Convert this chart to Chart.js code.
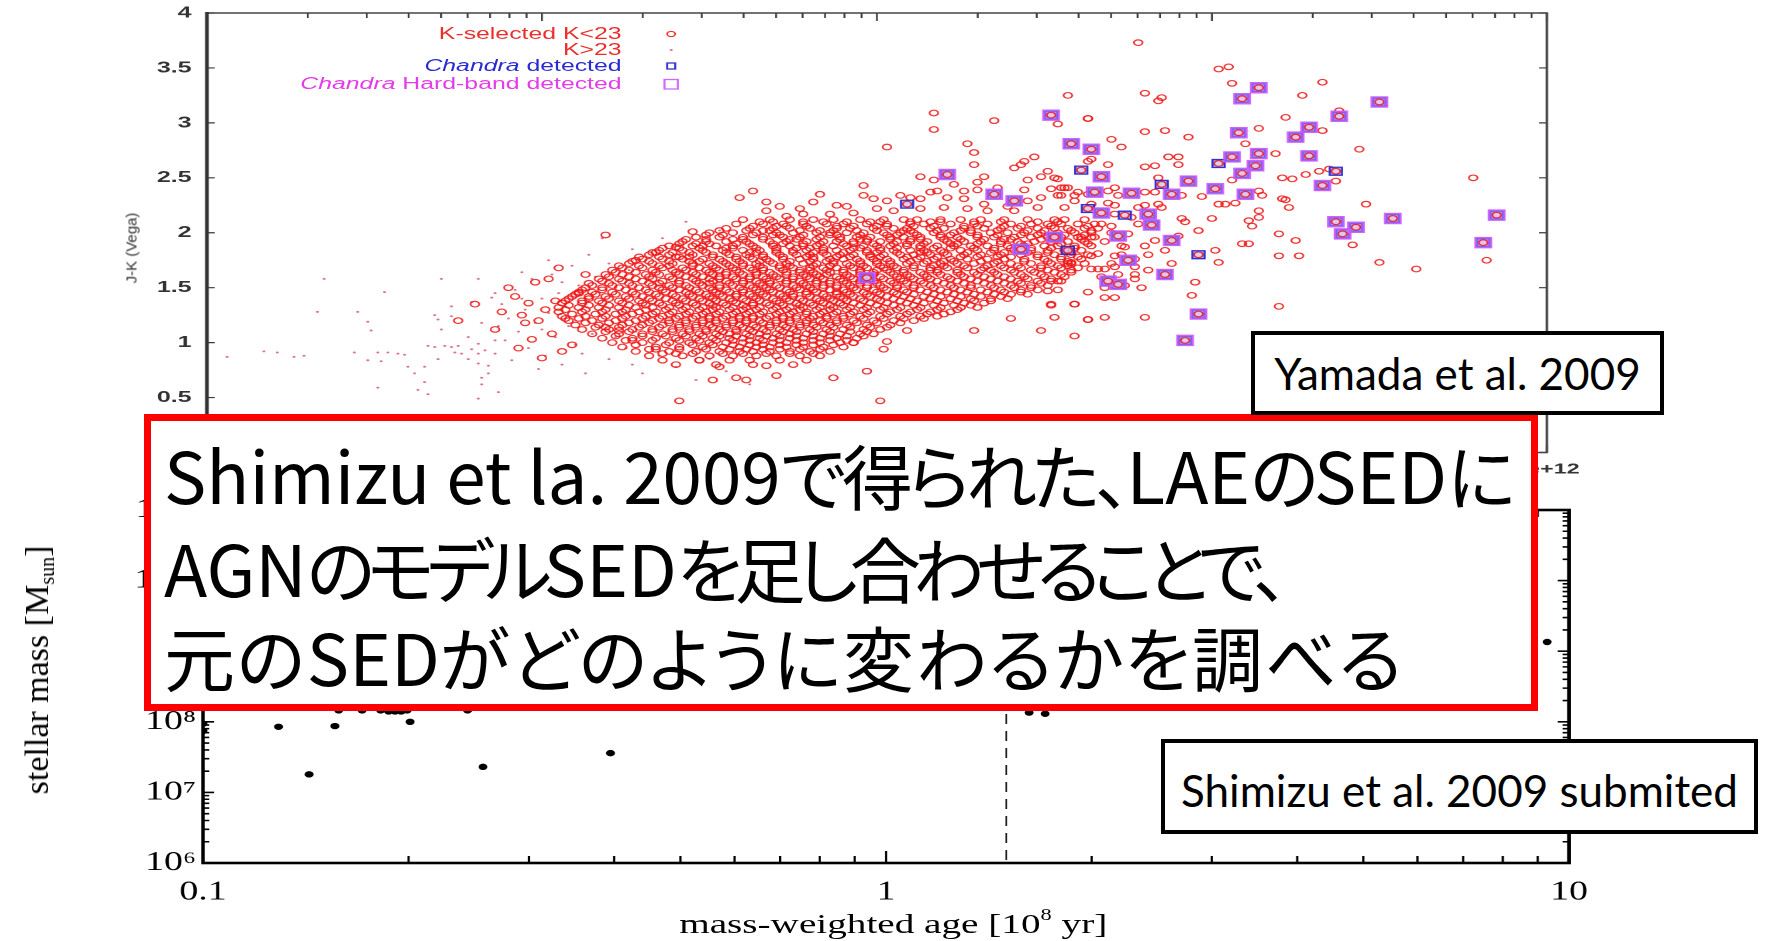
<!DOCTYPE html>
<html>
<head>
<meta charset="utf-8">
<script src="https://cdn.jsdelivr.net/npm/chart.js@4.4.1/dist/chart.umd.min.js"></script>
<style>
  html, body { margin: 0; padding: 0; background: #fff; }
  body { width: 1767px; height: 941px; position: relative; overflow: hidden; }
  .stretch { position: absolute; left: 0; transform-origin: 0 0; }
  #topWrap { top: 0; width: 1040px; height: 490px; transform: scaleX(1.55); }
  #botWrap { top: 430px; width: 1262px; height: 511px; transform: scaleX(1.4); }
  canvas { position: absolute; left: 0; top: 0; }
  .lg { position: absolute; left: 0; width: 401px; text-align: right; white-space: nowrap;
        font: 16px "Liberation Sans", Arial, sans-serif; line-height: 16px; }
  #jkTitle { position: absolute; left: 131px; top: 248px; transform: translate(-50%, -50%) rotate(-90deg);
             font: 15px "Liberation Sans", Arial, sans-serif; color: #333; white-space: nowrap; }
  #xTitle { position: absolute; left: 638px; top: 494px; transform: translate(-50%, -50%);
            font: 28px "Liberation Serif", "Times New Roman", serif; white-space: nowrap; color: #000; }
  #xTitle sup { font-size: 16px; vertical-align: 0; position: relative; top: -13px; }
  #yTitle { position: absolute; left: 37px; top: 670px; transform: translate(-50%, -50%) rotate(-90deg);
            font: 34px "Liberation Serif", "Times New Roman", serif; white-space: nowrap; color: #000; }
  #yTitle sub { font-size: 20px; vertical-align: 0; position: relative; top: 6px; }
  #note { position: absolute; left: 144px; top: 414px; width: 1394px; height: 297px; box-sizing: border-box;
          border: 7px solid #ff0000; background: #fff; }
  #note .ln { position: absolute; left: 13px; white-space: nowrap; color: #000;
              font-family: "Noto Sans CJK JP", "Noto Sans CJK SC", sans-serif; font-size: 71px; line-height: 71px;
              font-feature-settings: "palt"; }
  #note .lat { letter-spacing: 0; }
  .cite { position: absolute; box-sizing: border-box; border: 4px solid #000; background: #fff; }
  .cite span { position: absolute; left: 0; right: 0; text-align: center; white-space: nowrap;
               font: 44px Lato, "Open Sans", sans-serif; line-height: 44px; color: #000; }
</style>
</head>
<body>

<div id="topWrap" class="stretch">
  <canvas id="topChart" width="1040" height="490"></canvas>
  <div class="lg" style="top:26px;color:#e8302c;">K-selected K&lt;23</div>
  <div class="lg" style="top:42px;color:#e8302c;">K&gt;23</div>
  <div class="lg" style="top:58px;color:#2a2ad2;"><i>Chandra</i> detected</div>
  <div class="lg" style="top:76px;color:#e33ce8;"><i>Chandra</i> Hard-band detected</div>
</div>

<div id="botWrap" class="stretch">
  <canvas id="botChart" width="1262" height="511"></canvas>
  <div id="xTitle">mass-weighted age [10<sup>8</sup> yr]</div>
</div>

<div id="jkTitle">J-K (Vega)</div>
<div id="yTitle">stellar mass [M<sub>sun</sub>]</div>

<div id="note">
  <div class="ln" data-w="1347" style="top:17px;"><span class="lat">Shimizu et la. 2009</span>で得られた、<span class="lat">LAE</span>の<span class="lat">SED</span>に</div>
  <div class="ln" data-w="1117" style="top:110px;"><span class="lat">AGN</span>のモデル<span class="lat">SED</span>を足し合わせることで、</div>
  <div class="ln" data-w="1240" style="top:199px;">元の<span class="lat">SED</span>がどのように変わるかを調べる</div>
</div>

<div class="cite" style="left:1251px;top:331px;width:413px;height:84px;"><span style="top:16px;">Yamada et al. 2009</span></div>
<div class="cite" style="left:1161px;top:739px;width:597px;height:95px;"><span style="top:25px;">Shimizu et al. 2009 submited</span></div>

<script>
// ---------- J-K colour vs stellar mass (log10 M, J-K) ----------
// K-selected, K<23: rows of constant J-K with the log-mass of each object
const kBrightRows = [
  [2.12, [9.60, 9.68, 9.74, 9.81, 9.87, 9.95, 10.02, 10.08, 10.12, 10.19, 10.25, 10.31, 10.38, 10.45, 10.53, 10.56, 10.62]],
  [2.10, [9.65, 9.69, 9.78, 9.84, 9.91, 9.98, 10.01, 10.10, 10.16, 10.19, 10.29, 10.37, 10.48, 10.54]],
  [2.08, [9.58, 9.66, 9.72, 9.78, 9.85, 9.90, 9.97, 10.03, 10.10, 10.14, 10.22, 10.29, 10.33, 10.40, 10.46, 10.51, 10.55, 10.60, 10.65]],
  [2.06, [9.63, 9.70, 9.73, 9.79, 9.88, 9.93, 10.00, 10.03, 10.11, 10.17, 10.26, 10.30, 10.38, 10.43, 10.52, 10.63]],
  [2.04, [9.55, 9.62, 9.69, 9.74, 9.80, 9.88, 9.92, 9.99, 10.05, 10.09, 10.16, 10.20, 10.26, 10.32, 10.37, 10.42, 10.48, 10.53, 10.57, 10.62, 10.66]],
  [2.02, [9.53, 9.61, 9.66, 9.68, 9.77, 9.83, 9.87, 9.94, 10.00, 10.08, 10.10, 10.18, 10.25, 10.28, 10.36, 10.45, 10.50, 10.58, 10.64]],
  [2.00, [9.50, 9.57, 9.64, 9.70, 9.75, 9.82, 9.86, 9.91, 9.96, 10.02, 10.07, 10.11, 10.17, 10.23, 10.28, 10.34, 10.39, 10.44, 10.49, 10.54, 10.59, 10.64]],
  [1.98, [9.49, 9.54, 9.63, 9.69, 9.71, 9.78, 9.86, 9.88, 9.95, 10.03, 10.06, 10.12, 10.19, 10.22, 10.30, 10.36, 10.43, 10.48, 10.56, 10.62]],
  [1.96, [9.46, 9.53, 9.60, 9.66, 9.72, 9.77, 9.83, 9.89, 9.94, 9.98, 10.04, 10.08, 10.13, 10.19, 10.24, 10.30, 10.35, 10.41, 10.46, 10.51, 10.55, 10.60, 10.65]],
  [1.94, [9.43, 9.49, 9.57, 9.60, 9.66, 9.74, 9.76, 9.82, 9.89, 9.95, 9.97, 10.04, 10.10, 10.13, 10.20, 10.25, 10.32, 10.38, 10.40, 10.49, 10.53, 10.61]],
  [1.92, [9.42, 9.49, 9.55, 9.61, 9.68, 9.73, 9.79, 9.84, 9.88, 9.93, 9.97, 10.01, 10.06, 10.10, 10.15, 10.21, 10.26, 10.31, 10.37, 10.42, 10.47, 10.52, 10.57, 10.62]],
  [1.90, [9.41, 9.46, 9.50, 9.58, 9.62, 9.69, 9.72, 9.78, 9.83, 9.90, 9.93, 9.99, 10.05, 10.09, 10.14, 10.22, 10.24, 10.30, 10.37, 10.43, 10.45, 10.55, 10.63]],
  [1.88, [9.38, 9.45, 9.52, 9.57, 9.63, 9.69, 9.74, 9.78, 9.82, 9.87, 9.91, 9.96, 10.00, 10.04, 10.09, 10.13, 10.18, 10.23, 10.28, 10.33, 10.39, 10.44, 10.50, 10.54, 10.59, 10.64]],
  [1.86, [9.36, 9.41, 9.47, 9.55, 9.57, 9.64, 9.70, 9.76, 9.80, 9.84, 9.93, 9.95, 10.01, 10.06, 10.13, 10.17, 10.22, 10.29, 10.35, 10.40, 10.46, 10.52, 10.59]],
  [1.84, [9.35, 9.42, 9.48, 9.54, 9.60, 9.65, 9.70, 9.75, 9.79, 9.84, 9.88, 9.92, 9.97, 10.01, 10.05, 10.10, 10.14, 10.19, 10.25, 10.30, 10.35, 10.41, 10.46, 10.51, 10.56, 10.61]],
  [1.82, [9.33, 9.39, 9.44, 9.49, 9.55, 9.62, 9.64, 9.70, 9.75, 9.81, 9.84, 9.90, 9.97, 10.00, 10.06, 10.13, 10.15, 10.20, 10.27, 10.34, 10.38, 10.45, 10.51, 10.58]],
  [1.80, [9.32, 9.38, 9.45, 9.51, 9.56, 9.61, 9.66, 9.71, 9.76, 9.80, 9.85, 9.89, 9.93, 9.98, 10.02, 10.07, 10.11, 10.16, 10.21, 10.26, 10.31, 10.37, 10.43, 10.48, 10.53, 10.58, 10.63]],
  [1.78, [9.29, 9.35, 9.41, 9.44, 9.51, 9.58, 9.62, 9.66, 9.72, 9.79, 9.81, 9.88, 9.92, 9.98, 10.01, 10.09, 10.13, 10.18, 10.25, 10.30, 10.36, 10.40, 10.48, 10.55, 10.60]],
  [1.76, [9.30, 9.36, 9.42, 9.48, 9.53, 9.58, 9.63, 9.67, 9.72, 9.77, 9.81, 9.86, 9.90, 9.94, 9.99, 10.03, 10.08, 10.12, 10.17, 10.22, 10.27, 10.33, 10.38, 10.44, 10.50, 10.55, 10.61]],
  [1.74, [9.27, 9.32, 9.38, 9.44, 9.47, 9.54, 9.59, 9.65, 9.68, 9.74, 9.80, 9.85, 9.87, 9.95, 10.00, 10.04, 10.10, 10.15, 10.20, 10.23, 10.31, 10.36, 10.44, 10.51, 10.57]],
  [1.72, [9.26, 9.33, 9.39, 9.45, 9.50, 9.55, 9.60, 9.64, 9.69, 9.73, 9.78, 9.82, 9.87, 9.91, 9.95, 10.00, 10.04, 10.09, 10.14, 10.19, 10.24, 10.29, 10.35, 10.40, 10.46, 10.52, 10.58, 10.62]],
  [1.70, [9.23, 9.29, 9.35, 9.38, 9.45, 9.51, 9.56, 9.60, 9.65, 9.71, 9.74, 9.81, 9.86, 9.92, 9.96, 10.01, 10.05, 10.11, 10.17, 10.20, 10.26, 10.33, 10.37, 10.42, 10.49, 10.57]],
  [1.68, [9.24, 9.30, 9.36, 9.42, 9.47, 9.52, 9.57, 9.62, 9.66, 9.71, 9.75, 9.80, 9.84, 9.88, 9.93, 9.97, 10.02, 10.06, 10.11, 10.16, 10.21, 10.27, 10.32, 10.38, 10.43, 10.49, 10.55, 10.60]],
  [1.66, [9.21, 9.26, 9.33, 9.39, 9.43, 9.49, 9.53, 9.58, 9.63, 9.66, 9.72, 9.77, 9.80, 9.85, 9.90, 9.95, 10.00, 10.03, 10.08, 10.16, 10.18, 10.24, 10.31, 10.34, 10.40, 10.46, 10.51, 10.58]],
  [1.64, [9.22, 9.28, 9.34, 9.40, 9.45, 9.50, 9.55, 9.59, 9.64, 9.68, 9.73, 9.77, 9.81, 9.86, 9.90, 9.95, 9.99, 10.04, 10.08, 10.13, 10.18, 10.24, 10.29, 10.35, 10.41, 10.47, 10.53, 10.58]],
  [1.62, [9.19, 9.24, 9.31, 9.35, 9.41, 9.46, 9.51, 9.55, 9.60, 9.64, 9.69, 9.73, 9.78, 9.82, 9.85, 9.91, 9.95, 9.99, 10.05, 10.09, 10.14, 10.19, 10.25, 10.30, 10.36, 10.43, 10.49, 10.55]],
  [1.60, [9.20, 9.26, 9.32, 9.38, 9.43, 9.48, 9.53, 9.57, 9.62, 9.66, 9.70, 9.75, 9.79, 9.83, 9.88, 9.92, 9.97, 10.01, 10.06, 10.10, 10.15, 10.21, 10.26, 10.32, 10.38, 10.44, 10.50, 10.56]],
  [1.58, [9.17, 9.23, 9.28, 9.33, 9.39, 9.45, 9.50, 9.53, 9.58, 9.62, 9.67, 9.71, 9.75, 9.80, 9.84, 9.89, 9.93, 9.98, 10.02, 10.07, 10.11, 10.16, 10.22, 10.28, 10.34, 10.40, 10.45, 10.52]],
  [1.56, [9.18, 9.24, 9.30, 9.36, 9.41, 9.46, 9.51, 9.55, 9.60, 9.64, 9.68, 9.73, 9.77, 9.82, 9.86, 9.90, 9.95, 9.99, 10.04, 10.08, 10.13, 10.18, 10.24, 10.30, 10.36, 10.42, 10.48, 10.54]],
  [1.54, [9.14, 9.20, 9.26, 9.32, 9.35, 9.41, 9.47, 9.50, 9.56, 9.60, 9.65, 9.68, 9.73, 9.78, 9.82, 9.86, 9.91, 9.95, 10.00, 10.05, 10.09, 10.14, 10.20, 10.26, 10.32, 10.38, 10.43, 10.49]],
  [1.52, [9.15, 9.21, 9.27, 9.33, 9.38, 9.43, 9.48, 9.53, 9.57, 9.62, 9.66, 9.70, 9.75, 9.79, 9.84, 9.88, 9.92, 9.97, 10.01, 10.06, 10.11, 10.16, 10.22, 10.28, 10.34, 10.40, 10.46, 10.51]],
  [1.50, [9.13, 9.18, 9.23, 9.29, 9.35, 9.39, 9.44, 9.50, 9.53, 9.59, 9.63, 9.67, 9.71, 9.76, 9.80, 9.84, 9.88, 9.93, 9.97, 10.02, 10.06, 10.11, 10.17, 10.23, 10.28, 10.35, 10.41, 10.46]],
  [1.48, [9.12, 9.18, 9.25, 9.31, 9.36, 9.41, 9.46, 9.51, 9.55, 9.60, 9.64, 9.68, 9.73, 9.77, 9.81, 9.86, 9.90, 9.94, 9.99, 10.03, 10.08, 10.13, 10.19, 10.25, 10.31, 10.37, 10.43, 10.48]],
  [1.46, [9.11, 9.15, 9.21, 9.27, 9.32, 9.37, 9.43, 9.47, 9.52, 9.56, 9.60, 9.65, 9.69, 9.74, 9.79, 9.82, 9.88, 9.91, 9.96, 10.00, 10.05, 10.09, 10.15, 10.21, 10.27, 10.33, 10.38, 10.43]],
  [1.44, [9.10, 9.16, 9.22, 9.28, 9.34, 9.39, 9.44, 9.49, 9.53, 9.58, 9.62, 9.66, 9.71, 9.75, 9.79, 9.84, 9.88, 9.92, 9.97, 10.01, 10.06, 10.11, 10.17, 10.23, 10.29, 10.35, 10.40, 10.45]],
  [1.42, [9.09, 9.14, 9.19, 9.25, 9.30, 9.35, 9.40, 9.45, 9.50, 9.54, 9.58, 9.63, 9.67, 9.72, 9.75, 9.80, 9.85, 9.89, 9.93, 9.98, 10.03, 10.08, 10.14, 10.19, 10.25, 10.31, 10.37]],
  [1.40, [9.08, 9.14, 9.20, 9.26, 9.32, 9.37, 9.42, 9.47, 9.51, 9.56, 9.60, 9.64, 9.69, 9.73, 9.77, 9.82, 9.86, 9.90, 9.95, 10.00, 10.05, 10.10, 10.16, 10.22, 10.28, 10.34, 10.39]],
  [1.38, [9.07, 9.12, 9.17, 9.23, 9.29, 9.33, 9.39, 9.43, 9.48, 9.52, 9.57, 9.61, 9.65, 9.70, 9.74, 9.78, 9.83, 9.87, 9.91, 9.96, 10.01, 10.07, 10.12, 10.18, 10.24, 10.29, 10.34]],
  [1.36, [9.06, 9.12, 9.18, 9.24, 9.30, 9.35, 9.40, 9.45, 9.50, 9.54, 9.58, 9.63, 9.67, 9.71, 9.76, 9.80, 9.84, 9.89, 9.93, 9.98, 10.03, 10.09, 10.14, 10.20, 10.26, 10.32]],
  [1.34, [9.08, 9.14, 9.20, 9.26, 9.31, 9.36, 9.41, 9.46, 9.51, 9.55, 9.60, 9.63, 9.68, 9.72, 9.77, 9.81, 9.86, 9.90, 9.95, 10.00, 10.05, 10.11, 10.17, 10.23, 10.28]],
  [1.32, [9.05, 9.11, 9.17, 9.23, 9.28, 9.33, 9.38, 9.43, 9.48, 9.52, 9.57, 9.61, 9.65, 9.70, 9.74, 9.78, 9.83, 9.87, 9.92, 9.97, 10.02, 10.07, 10.13, 10.19, 10.25, 10.30]],
  [1.30, [9.07, 9.13, 9.19, 9.25, 9.31, 9.37, 9.42, 9.47, 9.51, 9.56, 9.60, 9.64, 9.69, 9.73, 9.77, 9.82, 9.86, 9.91, 9.96, 10.01, 10.06, 10.12, 10.18, 10.24]],
  [1.28, [9.05, 9.12, 9.18, 9.24, 9.29, 9.34, 9.39, 9.44, 9.49, 9.53, 9.58, 9.62, 9.66, 9.71, 9.75, 9.79, 9.84, 9.88, 9.93, 9.98, 10.04, 10.10, 10.16, 10.22]],
  [1.26, [9.09, 9.16, 9.22, 9.27, 9.33, 9.38, 9.43, 9.48, 9.52, 9.57, 9.61, 9.65, 9.70, 9.74, 9.79, 9.83, 9.87, 9.92, 9.97, 10.03, 10.09, 10.15, 10.20]],
  [1.24, [9.06, 9.13, 9.19, 9.25, 9.31, 9.36, 9.41, 9.46, 9.50, 9.55, 9.59, 9.63, 9.68, 9.72, 9.76, 9.81, 9.85, 9.90, 9.95, 10.01, 10.07, 10.13, 10.18]],
  [1.22, [9.11, 9.18, 9.24, 9.30, 9.35, 9.40, 9.45, 9.50, 9.54, 9.59, 9.63, 9.67, 9.72, 9.76, 9.80, 9.85, 9.90, 9.96, 10.02, 10.08, 10.14]],
  [1.20, [9.08, 9.15, 9.22, 9.28, 9.33, 9.38, 9.43, 9.48, 9.52, 9.57, 9.61, 9.65, 9.70, 9.74, 9.79, 9.83, 9.88, 9.93, 9.99, 10.05, 10.11]],
  [1.18, [9.13, 9.20, 9.26, 9.32, 9.38, 9.43, 9.48, 9.52, 9.57, 9.61, 9.66, 9.70, 9.74, 9.79, 9.84, 9.88, 9.94, 10.00, 10.07]],
  [1.16, [9.10, 9.17, 9.24, 9.30, 9.36, 9.41, 9.46, 9.50, 9.55, 9.59, 9.63, 9.68, 9.72, 9.77, 9.81, 9.86, 9.91, 9.97, 10.04]],
  [1.14, [9.16, 9.23, 9.29, 9.35, 9.41, 9.46, 9.51, 9.55, 9.60, 9.64, 9.68, 9.73, 9.77, 9.82, 9.87, 9.92, 9.98, 10.03]],
  [1.12, [9.12, 9.20, 9.27, 9.33, 9.39, 9.44, 9.49, 9.53, 9.58, 9.62, 9.66, 9.71, 9.75, 9.80, 9.85, 9.90, 9.96, 10.01]],
  [1.10, [9.19, 9.26, 9.33, 9.39, 9.44, 9.49, 9.54, 9.58, 9.63, 9.67, 9.72, 9.76, 9.81, 9.86, 9.92, 9.97]],
  [1.08, [9.15, 9.23, 9.30, 9.36, 9.42, 9.47, 9.52, 9.56, 9.61, 9.65, 9.70, 9.74, 9.79, 9.84, 9.89, 9.95, 9.99]],
  [1.06, [9.22, 9.30, 9.37, 9.43, 9.48, 9.53, 9.58, 9.62, 9.67, 9.71, 9.76, 9.81, 9.86, 9.91, 9.96]],
  [1.04, [9.18, 9.27, 9.34, 9.40, 9.46, 9.51, 9.56, 9.60, 9.65, 9.69, 9.74, 9.78, 9.83, 9.88, 9.94]],
  [1.02, [9.25, 9.33, 9.41, 9.47, 9.52, 9.57, 9.62, 9.66, 9.71, 9.76, 9.81, 9.86, 9.91]],
  [1.00, [9.21, 9.30, 9.38, 9.44, 9.50, 9.55, 9.60, 9.64, 9.69, 9.73, 9.78, 9.83, 9.89, 9.93]],
  [0.98, [9.28, 9.37, 9.45, 9.51, 9.57, 9.62, 9.66, 9.71, 9.76, 9.81, 9.87]],
  [0.96, [9.24, 9.34, 9.41, 9.48, 9.54, 9.59, 9.64, 9.68, 9.73, 9.78, 9.84, 9.90]],
  [0.94, [9.32, 9.41, 9.49, 9.56, 9.61, 9.66, 9.71, 9.77, 9.83]],
  [0.92, [9.28, 9.38, 9.46, 9.53, 9.59, 9.63, 9.68, 9.74, 9.80, 9.86]],
  [0.90, [9.36, 9.45, 9.54, 9.60, 9.67, 9.74, 9.81]],
  [0.88, [9.32, 9.42, 9.50, 9.57, 9.64, 9.70, 9.77, 9.83]],
  [0.84, [9.36, 9.47, 9.56, 9.62, 9.71, 9.79]],
  [0.80, [9.40, 9.52, 9.63, 9.75]]
];

// K-selected, K<23: objects outside the main locus [log10 M, J-K]
const kBrightOutliers = [
  [10.17,3.09],[10.35,3.02],[10.17,2.94],[10.54,2.99],[10.63,3.04],[10.03,2.78],[10.27,2.81],[10.29,2.73],
  [10.29,2.62],[10.44,2.65],[10.43,2.62],[10.47,2.69],[10.41,2.59],[10.51,2.56],[10.13,2.51],[10.17,2.48],
  [10.32,2.51],[10.45,2.48],[10.49,2.51],[10.54,2.49],[10.63,2.65],[9.96,2.43],[10.23,2.44],[10.30,2.46],
  [9.63,2.38],[9.83,2.35],[9.59,2.32],[9.67,2.28],[9.71,2.24],[9.77,2.22],[9.67,2.20],[9.81,2.28],
  [9.88,2.25],[9.91,2.24],[9.96,2.34],[9.99,2.31],[10.03,2.29],[10.07,2.34],[10.10,2.32],[10.13,2.31],
  [10.16,2.37],[10.18,2.38],[10.26,2.38],[10.30,2.39],[10.36,2.41],[10.44,2.39],[10.52,2.40],[10.56,2.41],
  [10.60,2.37],[10.21,2.32],[10.26,2.31],[10.32,2.26],[10.39,2.24],[10.45,2.29],[10.49,2.32],[10.55,2.34],
  [10.59,2.29],[10.64,2.26],[10.05,2.20],[10.13,2.22],[10.20,2.23],[10.27,2.22],[10.33,2.20],[10.41,2.20],
  [10.48,2.23],[10.56,2.23],[9.93,2.18],[10.00,2.22],[9.86,2.17],[9.78,2.17],[9.73,2.15],
  [11.02,3.49],[11.05,3.51],[11.06,3.36],[11.33,3.37],[11.27,3.25],[10.57,3.25],[10.80,3.27],[10.84,3.20],
  [10.85,3.23],[10.63,3.04],[11.22,3.05],[10.86,2.93],[10.80,2.92],[10.93,2.87],[11.14,2.95],[11.10,2.81],
  [11.38,3.11],[11.44,2.76],[10.70,2.85],[10.73,2.78],[10.69,2.62],[10.64,2.67],[10.87,2.69],[10.90,2.69],
  [10.80,2.60],[10.83,2.61],[10.90,2.62],[11.19,2.72],[11.33,2.93],[11.32,2.56],[11.35,2.58],[11.37,2.47],
  [11.28,2.53],[11.21,2.50],[11.24,2.49],[11.06,2.48],[10.84,2.50],[10.53,2.50],[10.55,2.41],[10.57,2.41],
  [10.71,2.41],[10.69,2.38],[10.72,2.34],[10.63,2.35],[10.59,2.34],[10.54,2.34],[10.80,2.37],[10.83,2.37],
  [10.91,2.34],[10.97,2.33],[11.14,2.38],[11.22,2.30],[11.23,2.23],[11.14,2.20],[11.14,2.14],[11.11,2.11],
  [11.12,2.06],[11.02,2.26],[11.04,2.26],[10.91,2.13],[10.92,2.10],[11.00,2.13],[10.96,2.02],[11.01,1.84],
  [11.02,1.73],[10.95,1.55],[10.94,1.43],[10.84,2.26],[10.85,2.23],[10.78,2.23],[10.80,2.25],[10.71,2.25],
  [10.69,2.27],[10.67,2.08],[10.71,2.17],[10.76,2.14],[10.78,2.08],[10.70,2.06],[10.61,1.96],[10.64,1.96],
  [10.66,1.81],[10.64,1.79],[10.71,1.79],[10.73,1.80],[10.74,1.87],[10.80,1.88],[10.81,1.80],[10.57,1.72],
  [10.58,1.73],[10.54,1.70],[10.64,1.67],[10.66,1.67],[10.68,1.67],[10.71,1.69],[10.77,1.69],[10.77,1.62],
  [10.77,1.58],[10.79,1.50],[10.55,1.56],[10.52,1.56],[10.51,1.47],[10.54,1.48],[10.63,1.46],[10.68,1.41],
  [10.71,1.41],[10.59,1.35],[10.52,1.34],[10.53,1.23],[10.63,1.21],[10.68,1.23],[10.59,1.06],[10.80,1.23],
  [11.20,1.99],[11.25,1.93],[11.20,1.79],[11.26,1.79],[11.21,2.31],[11.42,1.89],[11.46,2.26],[11.50,1.73],
  [11.61,1.67],[11.78,2.50],[11.82,1.75],[11.20,1.33],[11.11,1.90],[11.09,1.90],[11.07,2.27],[11.15,2.34],
  [10.78,3.73],[10.70,2.00],[10.75,1.99],[10.68,1.92],[10.73,1.88],[10.77,1.76],[10.70,1.72],[10.83,1.93],
  [10.86,1.84],[10.67,1.60],[10.72,1.62],[10.68,1.50],[10.74,1.52],[10.81,1.66],[10.88,1.72],[10.90,1.97],
  [10.29,1.11],[10.40,1.22],[10.49,1.11],[10.59,1.35],[10.63,1.21],[10.52,1.35],
  [9.41,0.47],[9.51,0.66],[9.58,0.68],[9.61,0.66],[9.70,0.70],[9.87,0.68],[9.97,0.74],[10.01,0.47],
  [9.67,0.79],[9.47,0.84],[9.53,0.78],[9.40,0.90],[9.34,0.94],[9.27,1.02],[9.23,1.11],[9.19,1.14],
  [9.93,1.00],[10.09,1.11],[10.02,0.94],[10.03,1.01],
  [9.19,1.98],[9.28,1.75],[9.34,1.82],[9.40,1.87],[9.45,2.01],[9.48,1.88],[9.40,1.78],[8.92,1.42],
  [8.95,1.18],[8.98,1.55],[9.01,1.30],[9.03,1.08],[9.05,1.68],[9.07,1.22],[9.09,0.98],[9.11,1.45],
  [9.13,1.62],[8.97,1.03],[9.04,1.38],[9.00,0.86],[8.94,1.25],[8.80,1.35],[8.86,1.12],[8.75,1.20],
  [8.90,1.50],[8.93,0.95],[8.99,1.20],[9.02,1.58],[8.96,1.36],[9.06,0.92],[8.88,1.28]
];

// K>23 (faint) objects [log10 M, J-K]
const kFaint = [
  [8.06,0.87],[8.17,0.92],[8.21,0.91],[8.26,0.87],[8.29,0.88],[8.35,1.58],[8.33,1.28],[8.45,1.28],
  [8.48,1.19],[8.49,1.11],[8.53,1.46],[8.44,0.91],[8.51,0.91],[8.54,0.91],[8.57,0.90],[8.59,0.89],
  [8.52,0.83],[8.48,0.84],[8.60,0.78],[8.62,0.72],[8.65,0.78],[8.65,0.64],[8.63,0.57],[8.66,0.53],
  [8.51,0.59],[8.70,1.58],[8.81,1.58],[8.70,1.12],[8.68,1.25],[8.69,1.21],[8.73,1.24],[8.73,1.33],
  [8.79,1.37],[8.82,1.18],[8.85,1.41],[8.81,0.99],[8.78,1.05],[8.75,0.97],[8.73,0.96],[8.74,0.91],
  [8.76,0.90],[8.79,0.94],[8.81,0.90],[8.83,0.93],[8.86,1.02],[8.86,0.90],[8.81,0.81],[8.84,0.79],
  [8.82,0.68],[8.82,0.62],[8.84,0.72],[8.81,0.49],[8.78,0.85],[8.68,0.96],[8.66,0.97],[8.71,0.97],
  [8.69,0.85],[8.87,0.55],
  [8.88,1.35],[8.90,1.22],[8.92,1.48],[8.93,1.10],[8.95,1.30],[8.96,0.95],[8.97,1.58],[8.98,1.18],
  [9.00,1.40],[9.01,0.88],[9.02,1.27],[9.03,1.62],[9.04,1.05],[9.05,1.45],[9.06,0.80],[9.07,1.33],
  [9.08,1.15],[9.09,1.70],[9.10,0.98],[9.11,1.52],[9.12,1.24],[9.13,0.72],[9.14,1.38],[9.15,1.08],
  [9.16,1.60],[8.89,1.02],[8.91,0.84],[8.94,1.64],[8.99,0.76],[9.02,1.75],[8.86,1.45],[8.87,1.15],
  [8.94,1.40],[9.00,1.12],[9.06,1.55],[9.12,0.90],[9.14,1.80],[9.18,1.95],
  [9.20,1.72],[9.22,1.50],[9.24,1.28],[9.25,0.95],[9.27,1.85],[9.28,1.10],[9.30,0.72],[9.31,1.58],
  [9.33,1.35],[9.35,0.88],[9.36,1.95],[9.38,1.20],[9.40,0.78],[9.42,1.65],[9.44,1.02],[9.46,0.66],
  [9.48,1.45],[9.50,0.85],[9.53,2.02],[9.55,0.74],[9.58,1.12],[9.62,0.62],[9.20,0.85],[9.26,1.66],
  [9.33,0.98],[9.39,1.48],[9.45,1.80],[9.22,1.05],[9.29,1.42],[9.34,1.12],[9.41,0.96],[9.47,1.25],
  [9.52,1.62],[9.57,0.92],[9.21,1.32],[9.27,0.80],[9.36,1.52],[9.43,2.10],[9.49,1.08]
];

// X-ray sources: all Chandra detections, and the hard-band subset [log10 M, J-K]
const chandraDetected = [
  [11.14,3.32],[11.09,3.22],[11.50,3.19],[11.38,3.06],[10.52,3.07],[11.08,2.91],[11.29,2.96],[11.25,2.87],
  [10.58,2.81],[10.64,2.76],[11.06,2.69],[11.14,2.72],[11.02,2.63],[11.13,2.61],[11.29,2.70],[11.37,2.56],
  [11.09,2.54],[10.61,2.57],[10.67,2.51],[10.93,2.47],[11.33,2.43],[10.85,2.44],[11.01,2.40],[10.65,2.37],
  [10.76,2.36],[10.88,2.35],[11.10,2.35],[10.63,2.22],[10.67,2.18],[10.74,2.16],[10.81,2.17],[10.82,2.07],
  [11.37,2.10],[11.43,2.05],[11.39,1.99],[11.54,2.13],[11.85,2.16],[11.81,1.91],[10.53,1.96],[10.72,1.97],
  [10.88,1.93],[10.57,1.84],[10.75,1.75],[10.96,1.80],[10.86,1.62],[10.69,1.56],[10.72,1.53],[10.96,1.26],
  [10.92,1.02],[10.21,2.53],[10.35,2.35],[10.41,2.29],[10.09,2.26],[10.43,1.85],[9.97,1.59]
];
const chandraHard = [
  [11.14,3.32],[11.09,3.22],[11.50,3.19],[11.38,3.06],[10.52,3.07],[11.08,2.91],[11.29,2.96],[11.25,2.87],
  [10.58,2.81],[10.64,2.76],[11.06,2.69],[11.14,2.72],[11.13,2.61],[11.29,2.70],
  [11.09,2.54],[10.67,2.51],[10.93,2.47],[11.33,2.43],[11.01,2.40],[10.65,2.37],
  [10.76,2.36],[10.88,2.35],[11.10,2.35],[10.67,2.18],[10.81,2.17],[10.82,2.07],
  [11.37,2.10],[11.43,2.05],[11.39,1.99],[11.54,2.13],[11.85,2.16],[11.81,1.91],[10.53,1.96],[10.72,1.97],
  [10.88,1.93],[10.75,1.75],[10.86,1.62],[10.69,1.56],[10.72,1.53],[10.96,1.26],
  [10.92,1.02],[10.21,2.53],[10.35,2.35],[10.41,2.29],[10.43,1.85],[9.97,1.59]
];

// axis ticks of the colour-mass diagram
const jkTicks = [0, 0.5, 1, 1.5, 2, 2.5, 3, 3.5, 4];
const massDecades = [1e8, 1e9, 1e10, 1e11, 1e12];

// ---------- stellar mass vs mass-weighted age (LAEs) ----------
const laeAge  = [0.1, 0.1, 0.129, 0.156, 0.201, 0.143, 0.257, 0.395, 0.158, 0.171, 0.182, 0.187, 0.191, 0.195, 0.199, 0.244, 1.62, 1.71, 9.29];
const laeMass = [9.4e7, 7.4e7, 8.5e7, 8.7e7, 1.0e8, 1.8e7, 2.3e7, 3.6e7, 1.45e8, 1.45e8, 1.45e8, 1.4e8, 1.4e8, 1.4e8, 1.45e8, 1.45e8, 1.35e8, 1.3e8, 1.35e9];
const ageLimit = 1.5;   // dashed reference age [10^8 yr]
const ageTicks  = [0.1, 1, 10];
const massTicks = [1e6, 1e7, 1e8, 1e9, 1e10, 1e11];

// ---------- shared helpers ----------
const MINOR = [2, 3, 4, 5, 6, 7, 8, 9];
const toPoints = list => list.map(([m, jk]) => ({ x: Math.pow(10, m), y: jk }));
const SUP = { '0': '\u2070', '1': '\u00b9', '2': '\u00b2', '3': '\u00b3', '4': '\u2074',
              '5': '\u2075', '6': '\u2076', '7': '\u2077', '8': '\u2078', '9': '\u2079' };
const pow10Label = v => '10' + String(Math.round(Math.log10(v))).split('').map(c => SUP[c]).join('');

const RING = 'rgba(238, 22, 22, 0.88)';
const FAINT = 'rgba(205, 70, 95, 0.75)';
const BLUE = 'rgba(40, 40, 205, 0.95)';
const MAGENTA = 'rgba(205, 85, 255, 0.9)';

const brightPoints = kBrightRows.flatMap(([jk, ms]) => ms.map(m => ({ x: Math.pow(10, m), y: jk })))
  .concat(toPoints(kBrightOutliers));

// frame, inward ticks and legend symbols of the colour-mass diagram
const topFrame = {
  id: 'topFrame',
  afterDatasetsDraw(chart) {
    const { ctx, chartArea: a, scales: { x, y } } = chart;
    ctx.save();
    ctx.strokeStyle = '#3a3a3a';
    ctx.lineWidth = 1.2;
    ctx.beginPath();
    jkTicks.forEach(v => {
      const py = y.getPixelForValue(v);
      ctx.moveTo(a.left, py); ctx.lineTo(a.left + 5, py);
      ctx.moveTo(a.right, py); ctx.lineTo(a.right - 5, py);
    });
    massDecades.forEach((d, i) => {
      const ks = i < massDecades.length - 1 ? [1].concat(MINOR) : [1];
      ks.forEach(k => {
        const px = x.getPixelForValue(k * d);
        const len = k === 1 ? 8 : 5;
        ctx.moveTo(px, a.top); ctx.lineTo(px, a.top + len);
        ctx.moveTo(px, a.bottom); ctx.lineTo(px, a.bottom - len);
      });
    });
    ctx.stroke();
    ctx.lineWidth = 1.5;
    ctx.strokeStyle = '#444';
    ctx.beginPath();
    ctx.moveTo(a.left, a.top); ctx.lineTo(a.right, a.top); ctx.lineTo(a.right, a.bottom); ctx.lineTo(a.left, a.bottom);
    ctx.stroke();
    ctx.lineWidth = 2.4;
    ctx.strokeStyle = '#333';
    ctx.beginPath();
    ctx.moveTo(a.left, a.top - 1); ctx.lineTo(a.left, a.bottom);
    ctx.stroke();

    // legend symbols
    const mx = 433;
    ctx.lineWidth = 1.1; ctx.strokeStyle = RING;
    ctx.beginPath(); ctx.arc(mx, 34, 2.6, 0, Math.PI * 2); ctx.stroke();
    ctx.fillStyle = FAINT;
    ctx.beginPath(); ctx.arc(mx, 50, 1.0, 0, Math.PI * 2); ctx.fill();
    ctx.lineWidth = 1.3; ctx.strokeStyle = BLUE;
    ctx.strokeRect(mx - 2.6, 63, 5.2, 6);
    ctx.strokeStyle = MAGENTA;
    ctx.strokeRect(mx - 4.3, 79.5, 8.6, 9.5);
    ctx.restore();
  }
};

new Chart(document.getElementById('topChart'), {
  type: 'scatter',
  data: {
    datasets: [
      { label: 'K-selected K<23 (X-ray)', data: toPoints(chandraDetected), order: 0,
        pointStyle: 'circle', pointRadius: 2.8, pointBorderWidth: 1.1,
        pointBorderColor: RING, pointBackgroundColor: 'rgba(255,235,235,0.6)' },
      { label: 'Chandra Hard-band detected', data: toPoints(chandraHard), order: 1,
        pointStyle: 'rect', pointRadius: 7.2, pointBorderWidth: 1.3,
        pointBorderColor: MAGENTA, pointBackgroundColor: 'rgba(180, 125, 248, 0.62)' },
      { label: 'Chandra detected', data: toPoints(chandraDetected), order: 2,
        pointStyle: 'rect', pointRadius: 5.6, pointBorderWidth: 1.3,
        pointBorderColor: BLUE, pointBackgroundColor: 'rgba(115, 95, 225, 0.55)' },
      { label: 'K-selected K<23', data: brightPoints, order: 3,
        pointStyle: 'circle', pointRadius: 2.8, pointBorderWidth: 1.15,
        pointBorderColor: RING, pointBackgroundColor: 'rgba(255,255,255,0)' },
      { label: 'K>23', data: toPoints(kFaint), order: 4,
        pointStyle: 'circle', pointRadius: 1.0, pointBorderWidth: 0,
        pointBackgroundColor: FAINT, pointBorderColor: FAINT }
    ]
  },
  options: {
    responsive: false, animation: false, devicePixelRatio: 2,
    layout: { padding: { left: 0, top: 13, right: 42, bottom: 9.5 } },
    plugins: { legend: { display: false }, tooltip: { enabled: false } },
    events: [],
    scales: {
      x: {
        type: 'logarithmic', min: 1e8, max: 1e12,
        grid: { display: false, drawTicks: false }, border: { display: false },
        afterBuildTicks: s => { s.ticks = massDecades.map(v => ({ value: v })); },
        afterFit: s => { s.height = 28; s.paddingLeft = 0; s.paddingRight = 0; },
        ticks: { autoSkip: false, maxRotation: 0, padding: 8, color: '#333',
                 font: { family: '"Liberation Sans", Arial, sans-serif', size: 15, weight: 'bold' },
                 callback: v => '1e+' + String(Math.round(Math.log10(v))).padStart(2, '0') }
      },
      y: {
        min: 0, max: 4,
        grid: { display: false, drawTicks: false }, border: { display: false },
        afterBuildTicks: s => { s.ticks = jkTicks.map(v => ({ value: v })); },
        afterFit: s => { s.width = 133.5; s.paddingTop = 0; s.paddingBottom = 0; },
        ticks: { autoSkip: false, padding: 10, color: '#333',
                 font: { family: '"Liberation Sans", Arial, sans-serif', size: 16, weight: 'bold' },
                 callback: v => String(v) }
      }
    }
  },
  plugins: [topFrame]
});

// frame, inward ticks and age marker of the mass-age diagram
const botFrame = {
  id: 'botFrame',
  beforeDatasetsDraw(chart) {
    const { ctx, chartArea: a, scales: { x } } = chart;
    const px = x.getPixelForValue(ageLimit);
    ctx.save();
    ctx.strokeStyle = '#000';
    ctx.lineWidth = 1.1;
    ctx.setLineDash([10, 7]);
    ctx.beginPath(); ctx.moveTo(px, a.top); ctx.lineTo(px, a.bottom); ctx.stroke();
    ctx.restore();
  },
  afterDatasetsDraw(chart) {
    const { ctx, chartArea: a, scales: { x, y } } = chart;
    ctx.save();
    ctx.strokeStyle = '#000';
    ctx.lineWidth = 1.6;
    ctx.beginPath();
    ageTicks.forEach((d, i) => {
      const ks = i < ageTicks.length - 1 ? [1].concat(MINOR) : [1];
      ks.forEach(k => {
        const px = x.getPixelForValue(k * d);
        const len = k === 1 ? 12 : 7;
        ctx.moveTo(px, a.bottom); ctx.lineTo(px, a.bottom - len);
        ctx.moveTo(px, a.top); ctx.lineTo(px, a.top + len);
      });
    });
    massTicks.forEach((d, i) => {
      const ks = i < massTicks.length - 1 ? [1].concat(MINOR) : [1];
      ks.forEach(k => {
        const py = y.getPixelForValue(k * d);
        const len = k === 1 ? 8 : 4.5;
        ctx.moveTo(a.left, py); ctx.lineTo(a.left + len, py);
        ctx.moveTo(a.right, py); ctx.lineTo(a.right - len, py);
      });
    });
    ctx.stroke();
    ctx.lineWidth = 2.6;
    ctx.strokeRect(a.left, a.top, a.right - a.left, a.bottom - a.top);
    ctx.restore();
  }
};

new Chart(document.getElementById('botChart'), {
  type: 'scatter',
  data: {
    datasets: [
      { label: 'LAE', data: laeAge.map((t, i) => ({ x: t, y: laeMass[i] })),
        pointStyle: 'circle', pointRadius: 3.2, pointBorderWidth: 0,
        pointBackgroundColor: '#000', pointBorderColor: '#000' }
    ]
  },
  options: {
    responsive: false, animation: false, devicePixelRatio: 2,
    layout: { padding: { left: 0, top: 80, right: 141.3, bottom: 38 } },
    plugins: { legend: { display: false }, tooltip: { enabled: false } },
    events: [],
    scales: {
      x: {
        type: 'logarithmic', min: 0.1, max: 10,
        grid: { display: false, drawTicks: false }, border: { display: false },
        afterBuildTicks: s => { s.ticks = ageTicks.map(v => ({ value: v })); },
        afterFit: s => { s.height = 40; },
        ticks: { autoSkip: false, maxRotation: 0, padding: 13, color: '#000',
                 font: { family: '"Liberation Serif", "Times New Roman", serif', size: 27 },
                 callback: v => String(v) }
      },
      y: {
        type: 'logarithmic', min: 1e6, max: 1e11,
        grid: { display: false, drawTicks: false }, border: { display: false },
        afterBuildTicks: s => { s.ticks = massTicks.map(v => ({ value: v })); },
        afterFit: s => { s.width = 145; },
        ticks: { autoSkip: false, padding: 5, color: '#000',
                 font: { family: '"Liberation Serif", "Times New Roman", serif', size: 27 },
                 callback: v => pow10Label(v) }
      }
    }
  },
  plugins: [botFrame]
});

// fit each line of the note to its width, spacing only the kana/kanji runs
function fitNoteLines() {
  document.querySelectorAll('#note .ln').forEach(el => {
    el.style.letterSpacing = '0px';
    const target = parseFloat(el.dataset.w);
    const w = el.getBoundingClientRect().width;
    let n = 0;
    el.childNodes.forEach(node => {
      if (node.nodeType === Node.TEXT_NODE) n += Array.from(node.textContent).length;
    });
    el.style.letterSpacing = ((target - w) / Math.max(n, 1)).toFixed(2) + 'px';
  });
}
fitNoteLines();
if (document.fonts && document.fonts.ready) document.fonts.ready.then(fitNoteLines);
</script>
</body>
</html>
